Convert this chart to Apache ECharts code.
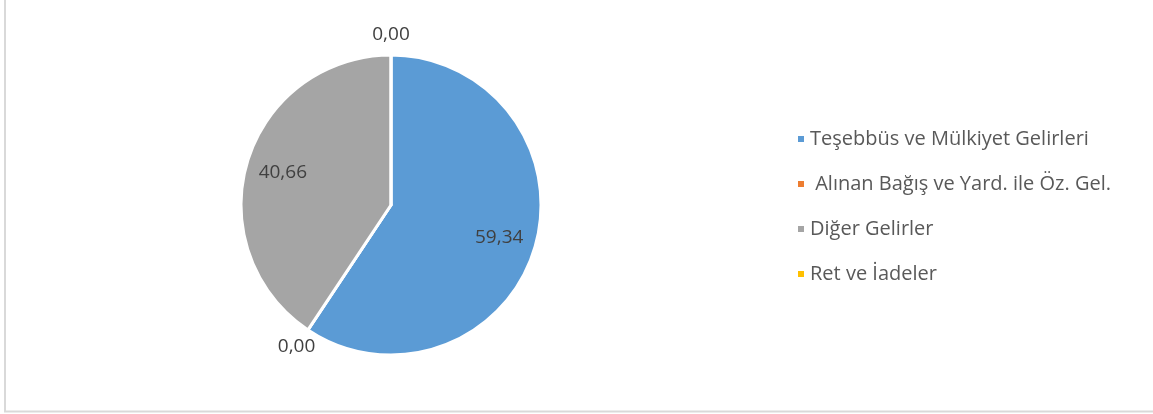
<!DOCTYPE html>
<html>
<head>
<meta charset="utf-8">
<script src="https://cdn.jsdelivr.net/npm/echarts@6/dist/echarts.min.js"></script>
<style>
  html, body { margin: 0; padding: 0; background: #fff; }
  #chart { width: 1153px; height: 414px; }
</style>
</head>
<body>
<div id="chart"></div>
<script>
// gelir dağılımı (%)
const categories = [
  'Teşebbüs ve Mülkiyet Gelirleri',
  ' Alınan Bağış ve Yard. ile Öz. Gel.',
  'Diğer Gelirler',
  'Ret ve İadeler'
]
const values = [59.34, 0, 40.66, 0]
const colors = ['#5B9BD5', '#ED7D31', '#A5A5A5', '#FFC000']

const center = [391, 205]
const fmt = v => v.toFixed(2).replace('.', ',')
const labelFont = { fontFamily: 'Open Sans', fontSize: 19, color: '#404040' }

const chart = echarts.init(document.getElementById('chart'))

// renkli pasta
const pieData = categories.map((name, i) => ({
  name, value: values[i], itemStyle: { color: colors[i] }
}))

// etiketler için görünmez yardımcı pastalar
const helper = (radius, showZero) => ({
  type: 'pie',
  radius: radius,
  center: center,
  startAngle: 90,
  silent: true,
  legendHoverLink: false,
  animation: false,
  itemStyle: { color: 'rgba(0,0,0,0)', borderWidth: 0 },
  emphasis: { disabled: true },
  label: {
    show: true,
    position: 'inside',
    ...labelFont,
    formatter: p => ((p.value === 0) === showZero ? fmt(p.value) : '')
  },
  labelLine: { show: false },
  data: categories.map((name, i) => ({ name, value: values[i] }))
})

chart.setOption({
  animation: false,
  legend: {
    orient: 'vertical',
    left: 791,
    top: 124,
    icon: 'rect',
    itemWidth: 8,
    itemHeight: 8,
    itemGap: 25,
    textStyle: { fontFamily: 'Open Sans', fontSize: 20, color: '#595959', lineHeight: 20 },
    data: categories
  },
  graphic: [{
    type: 'rect',
    shape: { x: 5, y: -10, width: 1170, height: 421.5 },
    style: { fill: 'none', stroke: '#d9d9d9', lineWidth: 2 },
    silent: true
  }],
  series: [
    {
      type: 'pie',
      radius: 150,
      center: center,
      startAngle: 90,
      clockwise: true,
      label: { show: false },
      labelLine: { show: false },
      itemStyle: { borderColor: '#fff', borderWidth: 3 },
      data: pieData
    },
    helper([0, 220], false),
    helper([0, 335], true)
  ]
})
</script>
</body>
</html>
